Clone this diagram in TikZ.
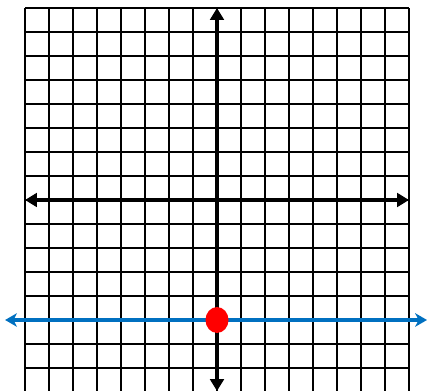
\documentclass[tikz,border=0pt]{standalone}
\usetikzlibrary{arrows.meta}

\definecolor{lineblue}{RGB}{0,112,192}

\begin{document}
\begin{tikzpicture}[x=0.5cm, y=0.5cm]
    \useasboundingbox (-9.042,-7.958) rectangle (8.75,8.333);
    %%% Grid
    \draw[color=black, line width=1.2pt, step=0.5cm] (-8,-8) grid (8,8);
    %
    %%% Axes
    \draw[color=black, line width=2.2pt, -{Triangle[length=7pt, width=8pt]}] (0,0) -- (0,8);
    \draw[color=black, line width=2.2pt, -{Triangle[length=7pt, width=8pt]}] (0,0) -- (0,-7.96);
    \draw[color=black, line width=2.2pt, -{Triangle[length=7pt, width=8pt]}] (0,0) -- (8,0);
    \draw[color=black, line width=2.2pt, -{Triangle[length=7pt, width=8pt]}] (0,0) -- (-8,0);
    %
    %%% Line y = -5
    \draw[color=lineblue, line width=2pt, {Stealth[length=7pt, width=8pt, inset=2pt]}-{Stealth[length=7pt, width=8pt, inset=2pt]}] (-8.83,-5) -- (8.75,-5);
    \fill[red] (0,-5) ellipse (0.48 and 0.54); % point
\end{tikzpicture}
\end{document}
